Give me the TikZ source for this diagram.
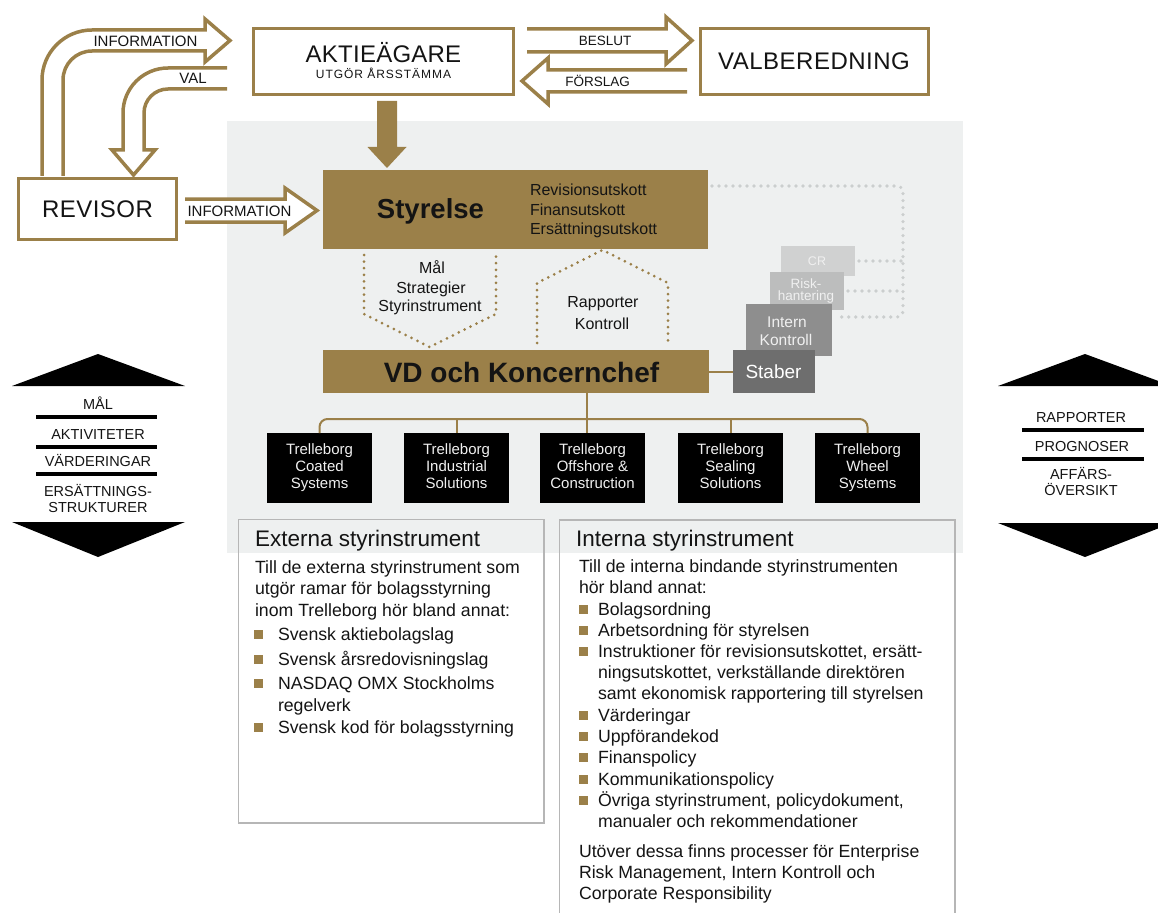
\documentclass[tikz,border=0pt]{standalone}
\usepackage{fontspec}
\setmainfont{Liberation Sans}
\usetikzlibrary{calc}
\definecolor{gold}{RGB}{155,128,73}
\definecolor{bggray}{RGB}{238,240,240}
\definecolor{ink}{RGB}{20,20,20}
\definecolor{crgray}{RGB}{208,209,209}
\definecolor{riskgray}{RGB}{188,189,189}
\definecolor{ikgray}{RGB}{142,142,142}
\definecolor{stabgray}{RGB}{110,110,110}
\definecolor{dotgray}{RGB}{203,206,206}
\definecolor{frame}{RGB}{182,182,182}
\definecolor{paletext}{RGB}{240,240,240}
\newcommand\fsz[2]{\fontsize{#1}{#2}\selectfont}
\begin{document}
\begin{tikzpicture}[x=1pt,y=-1pt,
  lbl/.style={anchor=base, inner sep=0, outer sep=0, text=ink},
  lblw/.style={anchor=base west, inner sep=0, outer sep=0, text=ink},
  outbox/.style={draw=gold, line width=3.5, fill=white, inner sep=0, outer sep=0},
  hollow/.style={draw=gold, line width=3.5},
  goldbox/.style={fill=gold, inner sep=0, outer sep=0},
  divbox/.style={fill=black, inner sep=0, outer sep=0, minimum width=105, minimum height=70, text=paletext, align=center, font=\fsz{15}{17}, execute at begin node={\rule{0pt}{12pt}}, execute at end node={\rule[-3pt]{0pt}{3pt}}},
  staff/.style={inner sep=0, outer sep=0, align=center, text=paletext},
  golddots/.style={draw=gold, line width=3, line cap=round, dash pattern=on 0pt off 6.6pt},
  graydots/.style={draw=dotgray, line width=3.6, line cap=round, dash pattern=on 0pt off 7pt},
  tree/.style={draw=gold, line width=2},
  rule/.style={line width=4, draw=black},
  tri/.style={fill=black},
  bul/.style={fill=gold}
]
\useasboundingbox (0,0) rectangle (1158,912);
\clip (0,0) rectangle (1158,912);

% grey panel
\fill[bggray] (227,121) rectangle (963,553);

% ---------- top boxes ----------
\node[outbox, minimum width=260, minimum height=66] (akt) at (383.5,61.5) {};
\node[lbl, font=\fsz{24}{28}\addfontfeature{LetterSpace=1}] (aktt) at (383.5,63) {AKTIEÄGARE};
\node[lbl, font=\fsz{12}{14}\addfontfeature{LetterSpace=8}] (akts) at (383.5,79) {UTGÖR ÅRSSTÄMMA};

\node[outbox, minimum width=228, minimum height=66] (val) at (814.5,61.5) {};
\node[lbl, font=\fsz{24}{28}\addfontfeature{LetterSpace=2}] (valt) at (814,70) {VALBEREDNING};

\node[outbox, minimum width=158, minimum height=61] (rev) at (97.5,209) {};
\node[lbl, font=\fsz{24}{28}\addfontfeature{LetterSpace=2}] (revt) at (97.5,217) {REVISOR};

% ---------- hollow arrows ----------
% INFORMATION (revisor -> aktieagare)
\draw[hollow] (42,176) -- (42,80) arc[start angle=180, end angle=270, radius=50]
  -- (205,30) -- (205,19) -- (230,40.5) -- (205,62) -- (205,51) -- (92,51)
  arc[start angle=270, end angle=180, radius=29] -- (63,176);
\node[lbl, font=\fsz{15}{17}] (info1) at (145.5,46.5) {INFORMATION};

% VAL (aktieagare -> revisor)
\draw[hollow] (227,68) -- (168,68) arc[start angle=270, end angle=180, radius=45]
  -- (123,150) -- (112,150) -- (133.5,175) -- (155,150) -- (144,150) -- (144,113)
  arc[start angle=180, end angle=270, radius=24] -- (227,89);
\node[lbl, font=\fsz{15}{17}] (valabel) at (193,84) {VAL};

% BESLUT
\draw[hollow] (527,29) -- (666,29) -- (666,17) -- (692,40.5) -- (666,64) -- (666,52) -- (527,52);
\node[lbl, font=\fsz{13.5}{16}] (beslut) at (605,45.5) {BESLUT};

% FORSLAG
\draw[hollow] (687,70) -- (548,70) -- (548,58) -- (522,81) -- (548,104) -- (548,92) -- (687,92);
\node[lbl, font=\fsz{13.5}{16}] (forslag) at (597.5,86.5) {FÖRSLAG};

% INFORMATION (revisor -> styrelse)
\fill[white] (185,199) -- (285,199) -- (285,188) -- (317,210.5) -- (285,233) -- (285,222) -- (185,222) -- cycle;
\draw[hollow] (185,199) -- (285,199) -- (285,188) -- (317,210.5) -- (285,233) -- (285,222) -- (185,222);
\node[lbl, font=\fsz{15}{17}] (info2) at (239.5,216.5) {INFORMATION};

% ---------- Styrelse & VD ----------
\node[goldbox, minimum width=385, minimum height=79] (styr) at (515.5,209.5) {};
\node[lbl, font=\bfseries\fsz{27.5}{30}] (styrt) at (430.5,218) {Styrelse};
\node[lblw, font=\fsz{16}{19}] (rut) at (530,195) {Revisionsutskott};
\node[lblw, font=\fsz{16}{19}] (fut) at (530,215) {Finansutskott};
\node[lblw, font=\fsz{16}{19}] (eut) at (530,234) {Ersättningsutskott};

% solid arrow
\fill[gold] (377,101) -- (397,101) -- (397,147) -- (406.5,147) -- (387,168) -- (367.5,147) -- (377,147) -- cycle;

\node[goldbox, minimum width=386, minimum height=43] (vd) at (516,371.5) {};
\node[lbl, font=\bfseries\fsz{28}{30}] (vdt) at (521.5,382) {VD och Koncernchef};

% dotted pentagons
\draw[golddots] (364,255) -- (364,314) -- (429.5,347) -- (496,314) -- (496,255);
\node[lbl, font=\fsz{16}{19}] (mal) at (432,273) {Mål};
\node[lbl, font=\fsz{16}{19}] (strat) at (431,293) {Strategier};
\node[lbl, font=\fsz{16}{19}] (styrin) at (430,311) {Styrinstrument};

\draw[golddots] (537,343) -- (537,283) -- (602.5,250) -- (668,283) -- (668,343);
\node[lbl, font=\fsz{16}{19}] (rapp) at (603,307) {Rapporter};
\node[lbl, font=\fsz{16}{19}] (kontr) at (602,329) {Kontroll};

% ---------- staff stack ----------
\draw[graydots] (712,186) -- (897,186) arc[start angle=270, end angle=360, radius=6] -- (903,311)
  arc[start angle=0, end angle=90, radius=6] -- (836,317);
\node[staff, fill=crgray, minimum width=74, minimum height=30] (cr) at (818,261) {};
\node[lbl, text=paletext, font=\fsz{12.5}{14}] (crt) at (817,265.5) {CR};
\draw[graydots] (cr.east) ++(4,0) -- (903,261);
\node[staff, fill=riskgray, minimum width=74, minimum height=38] (risk) at (807,291) {};
\node[lbl, text=paletext, font=\fsz{13.5}{12}] (riskt1) at (806,288) {Risk-};
\node[lbl, text=paletext, font=\fsz{13.5}{12}] (riskt2) at (806,300) {hantering};
\draw[graydots] (risk.east) ++(4,0) -- (903,291);
\node[staff, fill=ikgray, minimum width=86, minimum height=52] (ik) at (789,330) {};
\node[lbl, text=paletext, font=\fsz{15.5}{18}] (ikt1) at (787,327) {Intern};
\node[lbl, text=paletext, font=\fsz{15.5}{18}] (ikt2) at (786,345) {Kontroll};
\node[staff, fill=stabgray, minimum width=82, minimum height=43] (stab) at (774,371.5) {};
\node[lbl, text=white, font=\fsz{19}{22}] (stabt) at (773.5,378) {Staber};
\draw[tree] (vd.east) -- (stab.west);

% ---------- divisions ----------
\node[divbox] (b1) at (319.5,468) {Trelleborg\\Coated\\Systems};
\node[divbox] (b2) at (456.5,468) {Trelleborg\\Industrial\\Solutions};
\node[divbox] (b3) at (592.5,468) {Trelleborg\\Offshore \&\\Construction};
\node[divbox] (b4) at (730.5,468) {Trelleborg\\Sealing\\Solutions};
\node[divbox] (b5) at (867.5,468) {Trelleborg\\Wheel\\Systems};
\coordinate (hb) at (587,419);
\draw[tree, rounded corners=8] (b1.north) |- (hb -| b5.north) -- (b5.north);
\draw[tree] (b2.north) -- (b2.north |- hb);
\draw[tree] (b4.north) -- (b4.north |- hb);
\draw[tree] (vd.south -| hb) -- (b3.north -| hb);

% ---------- side panels ----------
\fill[tri] (12,386) -- (98,354) -- (185,386) -- cycle;
\fill[tri] (12,522) -- (98,557) -- (185,522) -- cycle;
\node[lbl, font=\fsz{14.5}{17}] (l1) at (98,409) {MÅL};
\draw[rule] (36,417) -- (157,417);
\node[lbl, font=\fsz{14.5}{17}] (l2) at (98,439) {AKTIVITETER};
\draw[rule] (36,447) -- (157,447);
\node[lbl, font=\fsz{14.5}{17}] (l3) at (98,466) {VÄRDERINGAR};
\draw[rule] (36,474) -- (157,474);
\node[lbl, font=\fsz{14.5}{17}] (l4) at (98,496) {ERSÄTTNINGS-};
\node[lbl, font=\fsz{14.5}{17}] (l5) at (98,512) {STRUKTURER};

\fill[tri] (998,386) -- (1085,354) -- (1172,386) -- cycle;
\fill[tri] (998,523) -- (1085,557) -- (1172,523) -- cycle;
\node[lbl, font=\fsz{14.5}{17}] (r1) at (1081,422) {RAPPORTER};
\draw[rule] (1022,430) -- (1144,430);
\node[lbl, font=\fsz{14.5}{17}] (r2) at (1082,451) {PROGNOSER};
\draw[rule] (1022,459) -- (1144,459);
\node[lbl, font=\fsz{14.5}{17}] (r3) at (1081,479) {AFFÄRS-};
\node[lbl, font=\fsz{14.5}{17}] (r4) at (1081,495) {ÖVERSIKT};

% ---------- Externa ----------
\draw[frame, line width=1.6] (238.5,519.5) rectangle (544,823);
\node[lblw, font=\fsz{22.5}{26}] (et) at (255,546) {Externa styrinstrument};
\node[lblw, font=\fsz{17.7}{21}] (e1) at (255,573) {Till de externa styrinstrument som};
\node[lblw, font=\fsz{17.7}{21}] (e2) at (255,594.5) {utgör ramar för bolagsstyrning};
\node[lblw, font=\fsz{17.7}{21}] (e3) at (255,616) {inom Trelleborg hör bland annat:};
\node[lblw, font=\fsz{17.7}{21}] (e4) at (278,640) {Svensk aktiebolagslag};
\node[lblw, font=\fsz{17.7}{21}] (e5) at (278,665) {Svensk årsredovisningslag};
\node[lblw, font=\fsz{17.7}{21}] (e6) at (278,689) {NASDAQ OMX Stockholms};
\node[lblw, font=\fsz{17.7}{21}] (e7) at (278,711) {regelverk};
\node[lblw, font=\fsz{17.7}{21}] (e8) at (278,733) {Svensk kod för bolagsstyrning};
\foreach \b in {640,665,689,733} \fill[bul] (254,\b-10) rectangle (263,\b-1.5);

% ---------- Interna ----------
\draw[frame, line width=1.6] (559.5,915) -- (559.5,520) -- (955,520) -- (955,915);
\node[lblw, font=\fsz{22.5}{26}] (it) at (576,546) {Interna styrinstrument};
\node[lblw, font=\fsz{17.7}{21}] (i1) at (579,572) {Till de interna bindande styrinstrumenten};
\node[lblw, font=\fsz{17.7}{21}] (i2) at (579,593) {hör bland annat:};
\node[lblw, font=\fsz{17.7}{21}] (i3) at (598,615) {Bolagsordning};
\node[lblw, font=\fsz{17.7}{21}] (i4) at (598,636) {Arbetsordning för styrelsen};
\node[lblw, font=\fsz{17.7}{21}] (i5) at (598,657) {Instruktioner för revisionsutskottet, ersätt-};
\node[lblw, font=\fsz{17.7}{21}] (i6) at (598,678) {ningsutskottet, verkställande direktören};
\node[lblw, font=\fsz{17.7}{21}] (i7) at (598,699) {samt ekonomisk rapportering till styrelsen};
\node[lblw, font=\fsz{17.7}{21}] (i8) at (598,721) {Värderingar};
\node[lblw, font=\fsz{17.7}{21}] (i9) at (598,742) {Uppförandekod};
\node[lblw, font=\fsz{17.7}{21}] (i10) at (598,763) {Finanspolicy};
\node[lblw, font=\fsz{17.7}{21}] (i11) at (598,785) {Kommunikationspolicy};
\node[lblw, font=\fsz{17.7}{21}] (i12) at (598,806) {Övriga styrinstrument, policydokument,};
\node[lblw, font=\fsz{17.7}{21}] (i13) at (598,827) {manualer och rekommendationer};
\node[lblw, font=\fsz{17.7}{21}] (i14) at (579,857) {Utöver dessa finns processer för Enterprise};
\node[lblw, font=\fsz{17.7}{21}] (i15) at (579,878) {Risk Management, Intern Kontroll och};
\node[lblw, font=\fsz{17.7}{21}] (i16) at (579,899) {Corporate Responsibility};
\foreach \b in {615,636,657,721,742,763,785,806} \fill[bul] (579,\b-10) rectangle (588,\b-1.5);
\end{tikzpicture}
\end{document}
